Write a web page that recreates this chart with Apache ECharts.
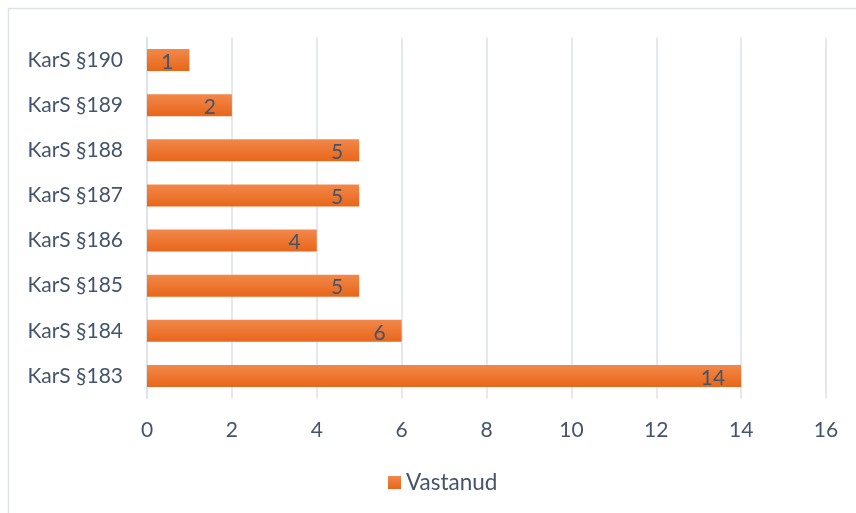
<!DOCTYPE html>
<html><head><meta charset="utf-8">
<script src="https://cdn.jsdelivr.net/npm/echarts@6/dist/echarts.min.js"></script>
<style>html,body{margin:0;padding:0;background:#fff}#c{width:856px;height:513px}</style>
</head><body><div id="c"></div>
<script>
var categories = ['KarS §183','KarS §184','KarS §185','KarS §186','KarS §187','KarS §188','KarS §189','KarS §190'];
var values = [14, 6, 5, 4, 5, 5, 2, 1];
var seriesName = 'Vastanud';
var txt = '#44546a';
var font = 'Lato, "Open Sans", sans-serif';
var chart = echarts.init(document.getElementById('c'), null, {renderer:'canvas'});
chart.setOption({
  animation:false,
  graphic:[{type:'rect', shape:{x:8.5,y:8.5,width:870,height:520}, style:{fill:'none',stroke:'#dde1e8',lineWidth:1.5}, silent:true}],
  grid:{left:147, right:30, top:37.5, bottom:114.5, containLabel:false},
  xAxis:{type:'value', min:0, max:16, interval:2,
    axisLine:{show:false}, axisTick:{show:false},
    splitLine:{lineStyle:{color:'#dde1e8', width:1.5}},
    axisLabel:{color:txt, fontSize:21, fontFamily:font, margin:21}},
  yAxis:{type:'category', data:categories,
    axisLine:{show:true, lineStyle:{color:'#dde1e8', width:1.5}}, axisTick:{show:false},
    axisLabel:{color:txt, fontSize:21, fontFamily:font, margin:24}},
  legend:{bottom:14, left:383, icon:'rect', itemWidth:13, itemHeight:13, itemGap:6,
    textStyle:{color:txt, fontSize:22.5, fontFamily:font}, data:[seriesName]},
  series:[{name:seriesName, type:'bar', data:values, barWidth:22,
    itemStyle:{color:new echarts.graphic.LinearGradient(0,0,0,1,[{offset:0,color:'#f2884a'},{offset:1,color:'#e8661a'}])},
    label:{show:true, position:'insideRight', color:txt, fontSize:21, fontFamily:font, offset:[-11,2]}}]
});
</script></body></html>
